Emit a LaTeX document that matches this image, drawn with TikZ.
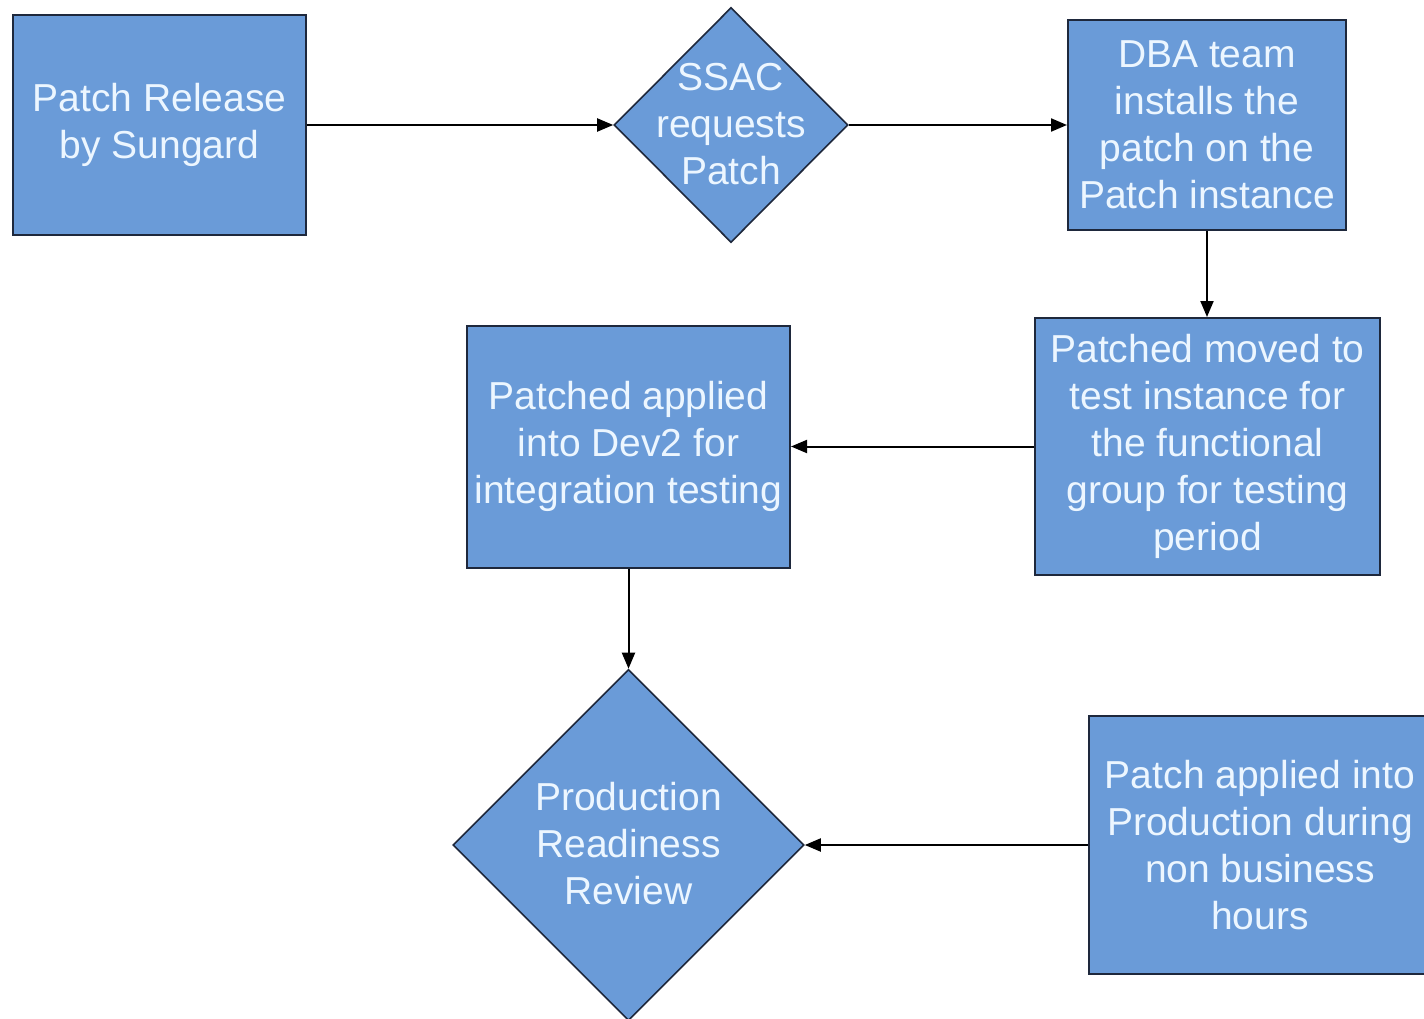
\documentclass[tikz,border=0pt]{standalone}
\usepackage{fontspec}
\setmainfont{Liberation Sans}
\usetikzlibrary{shapes.geometric,arrows.meta}
\definecolor{boxfill}{RGB}{106,155,216}
\definecolor{boxtext}{RGB}{236,246,255}
\definecolor{boxline}{RGB}{30,40,60}
\begin{document}
\begin{tikzpicture}[x=1pt,y=-1pt,
  every node/.style={font=\fontsize{39}{47}\selectfont},
  procbox/.style={draw=boxline,line width=2pt,fill=boxfill,text=boxtext,align=center,inner sep=0pt,rectangle},
  decbox/.style={draw=boxline,line width=1.6pt,fill=boxfill,diamond,inner sep=0pt,aspect=1},
  dectext/.style={text=boxtext,align=center,inner sep=0pt},
  flow/.style={line width=2pt,-{Triangle[length=16pt,width=13pt]}}]
\useasboundingbox (0,0) rectangle (1424,1019);
\fill[white] (0,0) rectangle (1424,1019);
\begin{scope}
\clip (0,0) rectangle (1424,1019);
\node[procbox,minimum width=293pt,minimum height=220pt] (rel) at (159.5,125) {Patch Release\\by Sungard};
\node[decbox,minimum width=234pt,minimum height=235pt] (ssac) at (731,125) {};
\node[dectext] (ssact) at (731,124) {SSAC\\requests\\Patch};
\node[procbox,minimum width=278pt,minimum height=210pt] (dba) at (1207,125) {DBA team\\installs the\\patch on the\\Patch instance};
\node[procbox,minimum width=345pt,minimum height=257pt] (test) at (1207.5,446.5) {Patched moved to\\test instance for\\the functional\\group for testing\\period};
\node[procbox,minimum width=323pt,minimum height=242pt] (dev) at (628.5,446.5) {Patched applied\\into Dev2 for\\integration testing};
\node[decbox,minimum width=351pt,minimum height=351pt] (prr) at (628.5,845) {};
\node[dectext] (prrt) at (628.5,844) {Production\\Readiness\\Review};
\node[procbox,minimum width=342pt,minimum height=258pt] (prod) at (1260,845) {Patch applied into\\Production during\\non business\\hours};
\end{scope}
\draw[flow] (rel.east) -- (ssac.west);
\draw[flow] (ssac.east) -- (dba.west);
\draw[flow] (dba.south) -- (dba.south |- test.north);
\draw[flow] (test.west) -- (dev.east);
\draw[flow] (dev.south) -- (prr.north);
\draw[flow] (prod.west) -- (prr.east);
\end{tikzpicture}
\end{document}
